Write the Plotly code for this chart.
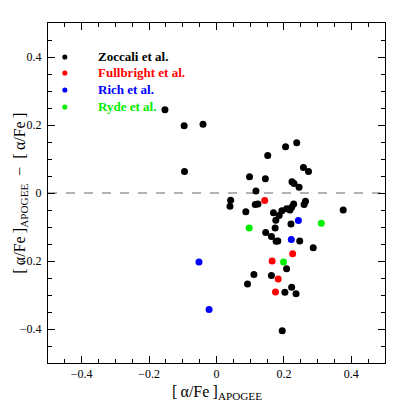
import plotly.graph_objects as go

# Zoccali et al. (black)
zoc_x = [-0.153, -0.096, -0.040, -0.095, 0.205, 0.238, 0.152, 0.258, 0.273, 0.098,
         0.145, 0.224, 0.230, 0.245, 0.117, 0.042, 0.040, 0.087, 0.115, 0.123,
         0.169, 0.194, 0.186, 0.208, 0.218, 0.223, 0.229, 0.260, 0.264, 0.376,
         0.176, 0.221, 0.174, 0.146, 0.163, 0.177, 0.182, 0.247, 0.287, 0.208,
         0.111, 0.163, 0.092, 0.223, 0.203, 0.236, 0.195]
zoc_y = [0.245, 0.198, 0.202, 0.063, 0.136, 0.148, 0.110, 0.075, 0.063, 0.048,
         0.042, 0.033, 0.028, 0.017, 0.006, -0.021, -0.039, -0.055, -0.034, -0.032,
         -0.058, -0.052, -0.066, -0.046, -0.050, -0.042, -0.032, -0.034, -0.024, -0.050,
         -0.080, -0.091, -0.103, -0.116, -0.128, -0.142, -0.141, -0.141, -0.161, -0.223,
         -0.240, -0.243, -0.268, -0.277, -0.292, -0.296, -0.405]

# Fullbright et al. (red)
ful_x = [0.143, 0.226, 0.165, 0.183, 0.175]
ful_y = [-0.022, -0.179, -0.200, -0.253, -0.291]

# Rich et al. (blue)
ric_x = [0.243, 0.222, -0.052, -0.022]
ric_y = [-0.081, -0.137, -0.203, -0.343]

# Ryde et al. (green)
ryd_x = [0.097, 0.311, 0.199]
ryd_y = [-0.103, -0.089, -0.203]

series = [
    ("Zoccali et al.", zoc_x, zoc_y, "#000000"),
    ("Fullbright et al.", ful_x, ful_y, "#ff0000"),
    ("Rich et al.", ric_x, ric_y, "#0000ff"),
    ("Ryde et al.", ryd_x, ryd_y, "#00ee00"),
]

FONT = "Liberation Serif"

fig = go.Figure()
for name, xs, ys, col in series:
    fig.add_trace(go.Scatter(x=xs, y=ys, mode="markers", name=name,
                             marker=dict(color=col, size=7, line=dict(width=0)),
                             showlegend=False))

# reference line at zero
fig.add_shape(type="line", xref="paper", x0=0, x1=1, yref="y", y0=0, y1=0,
              line=dict(color="#999999", width=1.5, dash="dash"), layer="below")

# legend (drawn manually)
leg_y = [0.900, 0.853, 0.803, 0.753]
for (name, xs, ys, col), ly in zip(series, leg_y):
    fig.add_annotation(xref="paper", yref="paper", x=0.141, y=ly, text="<b>%s</b>" % name,
                       showarrow=False, xanchor="left", yanchor="middle",
                       font=dict(family=FONT, size=13, color=col))
    fig.add_shape(type="circle", xref="paper", yref="paper",
                  x0=0.05 - 0.0075, x1=0.05 + 0.0075, y0=ly - 0.0075, y1=ly + 0.0075,
                  fillcolor=col, line=dict(width=0))

# axis titles
fig.add_annotation(xref="paper", yref="paper", x=0.5, y=-0.086,
                   text="[\u2009\u03b1/Fe\u2009]<sub>APOGEE</sub>", showarrow=False,
                   xanchor="center", yanchor="middle",
                   font=dict(family=FONT, size=16, color="black"))
fig.add_annotation(xref="paper", yref="paper", x=-0.084, y=0.5,
                   text="[\u2009\u03b1/Fe\u2009]<sub>APOGEE</sub>  \u2212  [\u2009\u03b1/Fe\u2009]",
                   showarrow=False, textangle=-90,
                   xanchor="center", yanchor="middle",
                   font=dict(family=FONT, size=16, color="black"))

axis_common = dict(
    showline=True, linecolor="black", linewidth=1, mirror="allticks",
    ticks="inside", ticklen=7, tickwidth=1, tickcolor="black",
    showgrid=False, zeroline=False,
    tickfont=dict(family=FONT, size=12, color="black"),
    minor=dict(dtick=0.05, ticks="inside", ticklen=4, tickcolor="black", showgrid=False),
)

# page body has an 8px margin, so the figure is 399px and margins are offset
fig.update_layout(
    width=399, height=399,
    margin=dict(l=36, r=22, t=15, b=44),
    paper_bgcolor="white", plot_bgcolor="white",
    showlegend=False,
    xaxis=dict(range=[-0.5, 0.5], tickvals=[-0.4, -0.2, 0, 0.2, 0.4],
               ticktext=["\u22120.4", "\u22120.2", "0", "0.2", "0.4"], **axis_common),
    yaxis=dict(range=[-0.5, 0.5], tickvals=[-0.4, -0.2, 0, 0.2, 0.4],
               ticktext=["\u22120.4", "\u22120.2", "0", "0.2", "0.4"],
               ticklabelstandoff=3, **axis_common),
)

fig.write_html("out.html")
